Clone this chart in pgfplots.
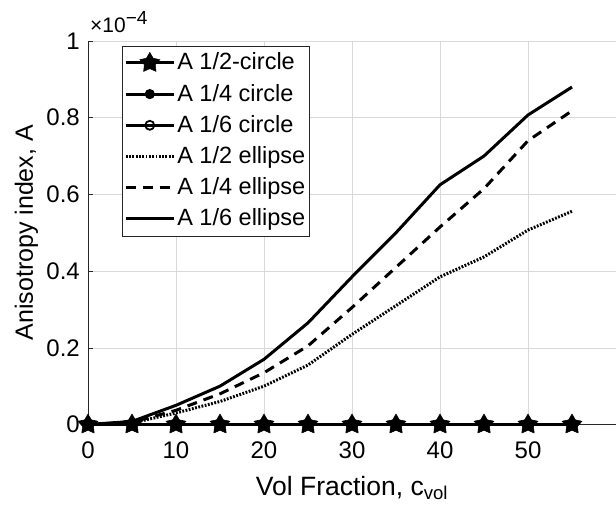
\documentclass[border=0pt]{standalone}
\usepackage{fontspec}
\setmainfont{Liberation Sans}
\usepackage{pgfplots}
\usepackage{pgfplotstable}
\pgfplotsset{compat=1.18}
\pgfdeclareplotmark{fstar}{%
  \pgfpathmoveto{\pgfpointpolar{90}{\pgfplotmarksize}}%
  \pgfpathlineto{\pgfpointpolar{126}{0.55\pgfplotmarksize}}%
  \pgfpathlineto{\pgfpointpolar{162}{\pgfplotmarksize}}%
  \pgfpathlineto{\pgfpointpolar{198}{0.55\pgfplotmarksize}}%
  \pgfpathlineto{\pgfpointpolar{234}{\pgfplotmarksize}}%
  \pgfpathlineto{\pgfpointpolar{270}{0.55\pgfplotmarksize}}%
  \pgfpathlineto{\pgfpointpolar{306}{\pgfplotmarksize}}%
  \pgfpathlineto{\pgfpointpolar{342}{0.55\pgfplotmarksize}}%
  \pgfpathlineto{\pgfpointpolar{18}{\pgfplotmarksize}}%
  \pgfpathlineto{\pgfpointpolar{54}{0.55\pgfplotmarksize}}%
  \pgfpathclose
  \pgfusepathqfillstroke
}
\pgfplotstableread{
x   c2  c4  c6  e2     e4     e6
0   0   0   0   0      0      0
5   0   0   0   0.004  0.006  0.008
10  0   0   0   0.030  0.037  0.050
15  0   0   0   0.060  0.080  0.100
20  0   0   0   0.100  0.135  0.170
25  0   0   0   0.155  0.205  0.265
30  0   0   0   0.235  0.305  0.385
35  0   0   0   0.310  0.410  0.500
40  0   0   0   0.385  0.515  0.625
45  0   0   0   0.437  0.615  0.700
50  0   0   0   0.507  0.740  0.807
55  0   0   0   0.556  0.818  0.880
}\datatab
\begin{document}
\begin{tikzpicture}
\begin{axis}[
  name=ax,
  scale only axis, width=528pt, height=383.5pt,
  xmin=0, xmax=60, ymin=0, ymax=1,
  axis x line*=bottom, axis y line*=left,
  axis line style={-, black!85, line width=0.6pt},
  xtick={0,10,...,50}, ytick={0,0.2,0.4,0.6,0.8,1},
  yticklabels={0,0.2,0.4,0.6,0.8,1},
  grid=major, major grid style={black!15, line width=0.5pt},
  tick align=inside, major tick length=5pt,
  tick style={black!85, line width=0.6pt},
  ticklabel style={font=\fontsize{24}{28}\selectfont},
  xticklabel style={anchor=base, yshift=-33.5pt},
  yticklabel style={anchor=east, inner sep=0pt, xshift=-8pt},
  /pgf/number format/assume math mode=true,
  xlabel={Vol Fraction, c\textsubscript{vol}},
  ylabel={Anisotropy index, A},
  xlabel style={font=\fontsize{26.5}{30}\selectfont, at={(axis description cs:0.5,0)}, anchor=base, yshift=-70.5pt, inner sep=0pt},
  ylabel style={font=\fontsize{25}{28}\selectfont, at={(axis description cs:0,0.5)}, anchor=base, yshift=55pt, inner sep=0pt},
  clip=false,
  legend cell align=left,
  legend style={at={(0.0644,0.988)}, anchor=north west, draw=black!85, line width=0.6pt,
    font=\fontsize{23.5}{27}\selectfont, inner xsep=2pt, inner ysep=3pt, row sep=3.2pt,
    nodes={inner sep=2pt, text height=19pt, text depth=5pt}},
  legend image code/.code={%
    \draw[mark repeat=2,mark phase=2,#1] plot coordinates {(0pt,0pt) (24pt,0pt) (48pt,0pt)};},
]
\addplot[black, line width=3pt, mark=fstar, mark size=10.5pt, mark options={solid, fill=black, line width=0.5pt}] table[x=x,y=c2] {\datatab};
\addlegendentry{A 1/2-circle}
\addplot[black, line width=3pt, mark=*, mark size=3.5pt, mark options={solid, fill=black}] table[x=x,y=c4] {\datatab};
\addlegendentry{A 1/4 circle}
\addplot[black, line width=3pt, mark=o, mark size=4.5pt, mark options={solid, fill=none, line width=1.8pt}] table[x=x,y=c6] {\datatab};
\addlegendentry{A 1/6 circle}
\addplot[black, line width=3pt, dash pattern=on 1.8pt off 1.5pt] table[x=x,y=e2] {\datatab};
\addlegendentry{A 1/2 ellipse}
\addplot[black, line width=3pt, dash pattern=on 10pt off 7pt] table[x=x,y=e4] {\datatab};
\addlegendentry{A 1/4 ellipse}
\addplot[black, line width=3pt] table[x=x,y=e6] {\datatab};
\addlegendentry{A 1/6 ellipse}
\end{axis}
\node[anchor=base west, inner sep=0pt] at ([xshift=2pt, yshift=8pt]ax.north west) {\fontsize{21}{24}\selectfont ×10\raisebox{8pt}{\fontsize{19}{21}\selectfont −4}};
\pgfresetboundingbox
\path ([xshift=-88pt,yshift=-85.5pt]ax.south west) rectangle ([yshift=41pt]ax.north east);
\end{tikzpicture}
\end{document}
